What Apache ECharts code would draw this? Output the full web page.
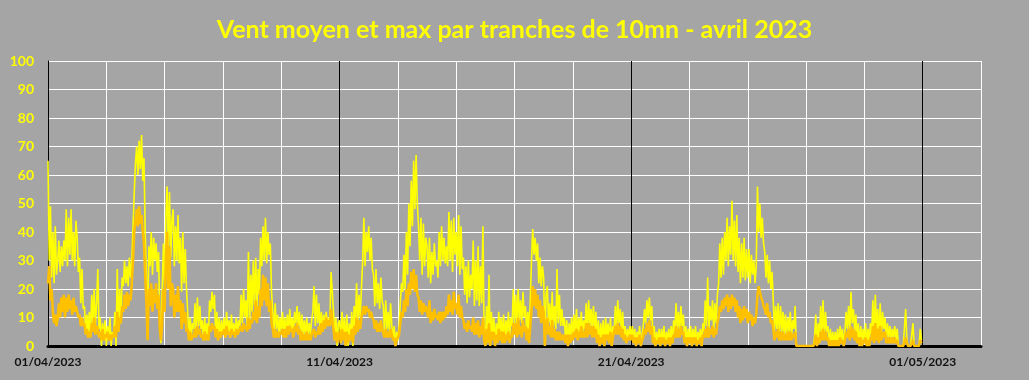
<!DOCTYPE html>
<html>
<head>
<meta charset="utf-8">
<script src="https://cdn.jsdelivr.net/npm/echarts@6/dist/echarts.min.js"></script>
<style>
html,body{margin:0;padding:0;background:#a5a5a5;}
#c{width:1029px;height:380px;}
</style>
</head>
<body>
<div id="c"></div>
<script>
// Chart title and tick labels
const titleText = 'Vent moyen et max par tranches de 10mn - avril 2023';
const dayTickLabels = {0: '01/04/2023', 10: '11/04/2023', 20: '21/04/2023', 30: '01/05/2023'};
const pointsPerDay = 24;

// Max wind (hourly samples), one row per day (01/04 .. 30/04)
const windMax = [
65,30,49,24,40,22,42,25,30,37,26,35,28,37,30,48,28,45,32,48,30,40,28,44,
38,26,31,15,27,13,14,5,11,3,12,4,18,8,20,7,15,27,6,10,0,8,2,9,
0,7,2,10,0,5,3,12,0,27,5,20,8,24,21,30,22,28,21,31,24,30,42,54,
64,70,60,72,62,74,58,66,40,25,3,35,28,40,25,38,30,36,26,33,10,1,20,36,
20,45,56,35,54,31,44,48,28,42,30,46,29,38,19,40,22,34,20,12,3,10,4,8,
6,15,5,17,7,14,6,9,2,10,3,8,2,16,12,19,13,18,4,12,2,10,3,9,
4,10,3,12,5,9,3,11,4,8,3,10,4,9,7,18,8,20,10,16,7,33,9,25,
12,30,14,31,13,27,18,38,28,42,30,45,29,40,32,36,19,12,5,15,6,11,4,10,
5,12,4,10,3,11,5,13,6,10,4,12,8,14,7,12,3,11,4,9,3,10,4,8,
4,9,12,21,7,18,8,15,6,12,5,11,6,12,7,10,8,26,19,12,2,10,0,8,
9,1,12,3,10,0,11,0,8,2,12,0,14,7,22,8,18,10,20,30,45,28,40,33,
42,30,38,27,25,14,27,15,22,13,24,16,14,5,16,6,12,5,15,7,3,7,0,5,
2,7,15,22,19,32,20,40,25,50,35,58,42,65,48,67,50,42,30,45,25,43,28,38,
35,24,38,22,33,25,36,28,30,24,40,28,42,30,38,29,35,28,47,30,44,26,45,32,
40,28,46,25,42,27,31,18,28,15,30,17,25,20,37,14,30,16,35,14,28,15,42,5,
0,14,2,25,0,12,3,10,0,8,2,12,4,10,3,11,2,9,4,12,3,10,7,20,
8,18,7,20,9,16,8,19,10,14,5,12,4,16,30,41,32,38,30,36,22,31,21,28,
24,0,18,21,8,15,5,19,7,14,6,27,8,18,7,13,7,10,2,9,0,8,3,10,
3,11,4,13,3,10,5,12,4,9,6,15,5,16,7,13,6,14,5,12,2,9,0,8,
2,9,0,10,3,8,1,10,0,7,5,14,6,16,8,13,5,12,3,7,2,6,3,7,
3,7,2,6,0,5,2,7,0,4,7,13,8,16,10,17,9,14,2,7,0,5,1,6,
0,6,1,7,0,5,2,6,0,7,1,9,5,15,6,12,5,14,7,11,2,7,0,6,
2,7,0,6,1,7,0,5,2,6,0,8,5,16,7,24,6,14,9,16,5,15,8,18,
22,36,24,38,25,40,30,45,28,42,32,51,30,44,28,46,26,38,22,36,24,38,23,34,
24,34,22,32,25,30,22,28,56,40,50,38,45,36,33,24,32,22,30,20,26,16,5,14,
6,15,4,14,5,12,3,11,4,10,5,12,3,9,6,14,0,0,0,0,0,0,0,0,
0,0,0,0,0,0,0,3,11,0,8,2,14,4,16,3,12,5,7,0,6,1,5,0,
5,1,6,0,7,2,6,0,5,12,6,14,5,19,8,13,5,11,2,8,0,7,1,6,
2,8,0,6,1,8,4,16,3,18,5,13,3,15,4,12,6,10,2,8,3,7,2,6,
3,7,2,6,0,0,0,0,0,0,13,2,0,0,0,0,8,0,0,0,0,0,6,2
];

// Mean wind (hourly samples)
const windMean = [
22,28,16,20,12,8,11,7,10,15,10,17,12,18,10,17,12,18,13,16,11,17,12,14,
12,10,11,7,10,7,8,4,6,3,5,3,8,5,10,4,7,6,3,5,2,6,2,4,
3,5,2,4,2,4,3,7,3,12,5,10,8,14,12,18,13,19,14,18,16,22,30,40,
44,48,42,49,43,46,40,36,25,15,2,20,14,22,12,20,15,22,13,18,6,2,8,20,
12,30,40,20,35,14,22,20,10,18,12,21,12,16,6,15,8,12,5,6,2,5,2,4,
3,6,3,7,4,6,3,4,2,5,2,4,2,7,5,8,6,7,3,6,2,5,3,5,
4,6,3,7,4,5,3,6,4,5,3,6,4,5,5,7,5,8,6,7,5,10,6,9,
8,12,9,16,8,14,10,20,14,25,16,24,14,22,12,16,8,6,3,6,3,5,3,5,
4,6,3,6,3,7,4,7,5,6,3,7,5,8,4,6,2,5,2,4,2,5,2,4,
2,4,5,6,3,5,4,7,4,8,5,9,6,10,7,9,7,13,9,6,2,5,1,4,
5,1,6,2,5,0,5,1,4,2,6,1,7,4,10,5,9,6,10,12,14,11,14,12,
13,10,12,10,9,6,9,5,8,5,9,6,6,3,6,3,5,3,6,4,2,3,0,2,
2,4,8,12,10,16,12,20,14,22,18,26,20,27,19,25,18,17,12,16,11,15,12,14,
14,10,16,8,12,9,13,10,11,9,12,8,12,9,12,10,14,11,18,12,16,11,19,13,
15,11,18,10,14,10,9,6,8,5,9,6,7,5,10,4,8,4,9,3,7,4,10,2,
0,6,1,8,0,5,2,5,0,4,1,6,2,5,1,5,1,4,2,5,1,4,3,8,
4,8,3,10,4,7,3,9,5,7,2,6,1,7,12,21,14,20,13,18,10,16,8,14,
12,0,8,10,4,7,3,9,3,6,2,5,2,5,2,4,2,4,1,4,0,4,1,4,
2,5,3,6,2,5,3,7,3,5,3,8,3,8,4,7,3,7,3,6,1,4,0,3,
1,4,0,4,2,4,1,5,0,3,3,7,4,8,4,7,3,6,2,4,1,3,2,4,
2,4,1,3,0,3,1,4,0,2,3,6,4,8,5,9,4,7,1,3,0,2,1,3,
0,3,1,3,0,2,1,3,0,3,1,4,3,7,3,6,3,7,4,5,1,3,0,3,
1,3,0,3,1,3,0,2,1,3,0,4,3,6,3,7,3,6,4,7,3,6,4,8,
10,14,12,16,13,17,14,18,12,17,13,18,14,17,12,16,10,14,8,13,9,14,10,13,
8,12,9,11,7,10,8,11,18,21,19,17,16,14,13,11,15,10,12,8,9,6,2,5,
3,6,2,5,2,5,2,4,2,5,2,5,2,4,3,5,0,0,0,0,0,0,0,0,
0,0,0,0,0,0,0,1,4,0,3,1,5,2,6,2,5,2,3,0,2,0,2,0,
2,0,2,0,3,1,2,0,2,5,3,6,2,7,3,6,2,5,1,3,0,3,0,2,
1,3,0,2,0,3,2,7,1,8,2,6,1,7,2,5,3,5,1,3,1,3,1,3,
1,3,1,2,0,0,0,0,0,0,3,1,0,0,0,0,2,0,0,0,0,0,2,1
];

const toPairs = arr => arr.map((v, i) => [i / pointsPerDay, v]);

const chart = echarts.init(document.getElementById('c'), null, {renderer: 'canvas'});
chart.setOption({
  backgroundColor: '#a5a5a5',
  animation: false,
  title: {
    text: titleText,
    left: 'center',
    top: 12,
    textStyle: {color: '#ffff00', fontSize: 25, fontWeight: 'bold', fontFamily: 'Lato'}
  },
  grid: {left: 48, right: 48, top: 61, bottom: 34, containLabel: false},
  xAxis: {
    type: 'value',
    min: 0,
    max: 32,
    interval: 2,
    axisLine: {show: true, onZero: false, lineStyle: {color: '#000', width: 3}},
    axisTick: {show: false},
    axisLabel: {
      color: '#111',
      fontSize: 12,
      fontWeight: 'bold',
      fontFamily: 'Lato',
      margin: 10,
      showMaxLabel: false,
      formatter: v => dayTickLabels[v] || ''
    },
    splitLine: {
      show: true,
      lineStyle: {color: ['#000000', '#ffffff', '#ffffff', '#ffffff', '#ffffff'], width: 1}
    }
  },
  yAxis: {
    type: 'value',
    min: 0,
    max: 100,
    interval: 10,
    axisLine: {show: true, lineStyle: {color: '#000', width: 1}},
    axisTick: {show: false},
    axisLabel: {color: '#ffff00', fontSize: 14, fontWeight: 'bold', fontFamily: 'Lato', margin: 14},
    splitLine: {show: true, lineStyle: {color: '#ffffff', width: 1}}
  },
  series: [
    {
      name: 'max',
      type: 'line',
      data: toPairs(windMax),
      showSymbol: false,
      symbol: 'none',
      lineStyle: {color: '#ffff00', width: 1.6},
      itemStyle: {color: '#ffff00'},
      z: 2
    },
    {
      name: 'moyen',
      type: 'line',
      data: toPairs(windMean),
      showSymbol: false,
      symbol: 'none',
      lineStyle: {color: '#ffc000', width: 2.5},
      itemStyle: {color: '#ffc000'},
      z: 3
    }
  ]
});
</script>
</body>
</html>
